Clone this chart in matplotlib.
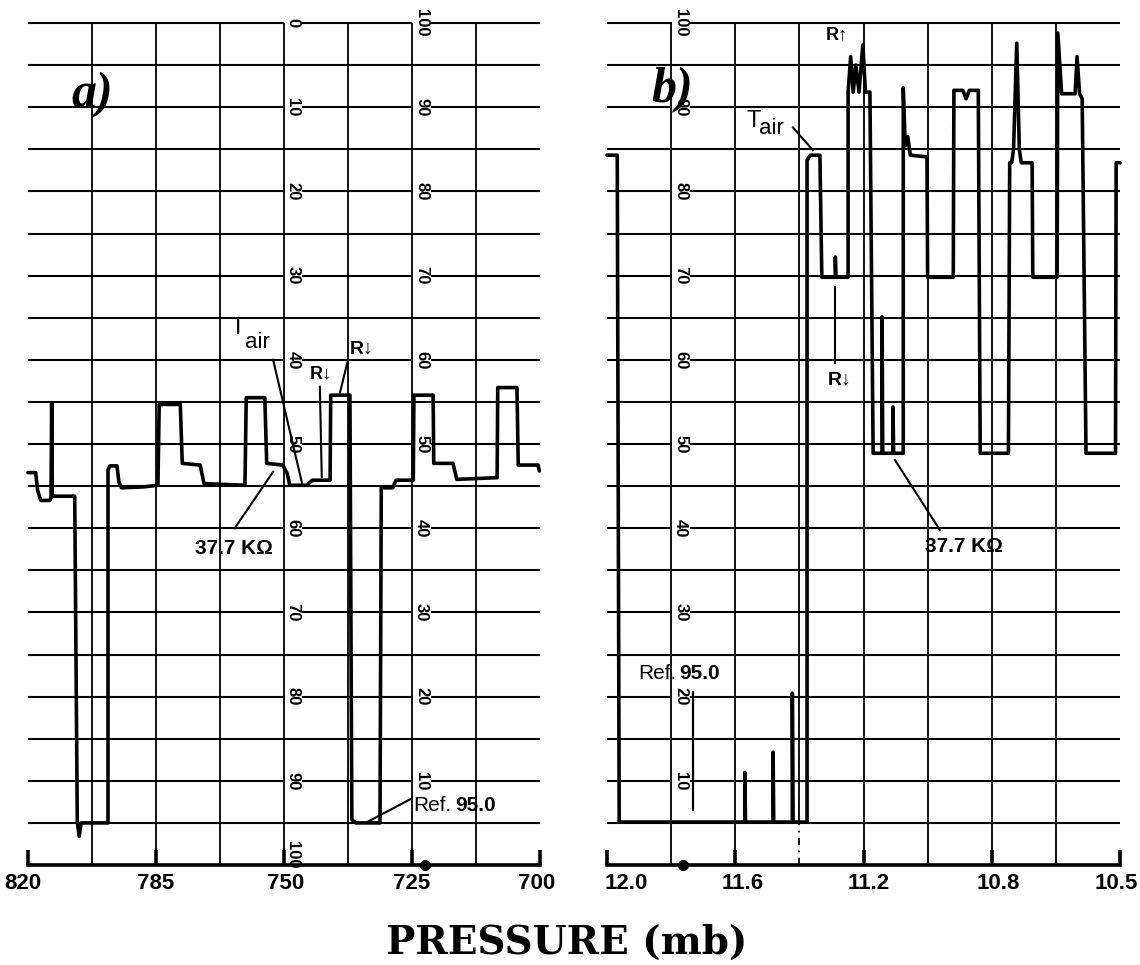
import matplotlib
matplotlib.use("Agg")
import matplotlib.pyplot as plt

plt.rcParams['font.family'] = ['Liberation Sans', 'DejaVu Sans']

# ---------------- data (x in chart divisions 0-8, y in chart units 0-100) -------------
div_ticks = [0, 2, 4, 6, 8]
a_pressure_labels = ['820', '785', '750', '725', '700']
b_pressure_labels = ['12.0', '11.6', '11.2', '10.8', '10.5']

grid_values = list(range(5, 101, 5))
grid_divs = [1, 2, 3, 4, 5, 6, 7]

scale_values = [100, 90, 80, 70, 60, 50, 40, 30, 20, 10]
a_left_scale = ['0', '10', '20', '30', '40', '50', '60', '70', '80', '90']
a_right_scale = ['100', '90', '80', '70', '60', '50', '40', '30', '20', '10']
b_scale = ['100', '90', '80', '70', '60', '50', '40', '30', '20', '10']

# panel a trace
a_x = [0.00, 0.12, 0.15, 0.20, 0.34, 0.36, 0.37, 0.38, 0.40, 0.73, 0.77, 0.80, 0.83,
       1.25, 1.25, 1.28, 1.39, 1.42, 1.46, 1.80, 2.03, 2.05, 2.38, 2.41, 2.69, 2.75,
       3.39, 3.41, 3.70, 3.73, 3.98, 4.05, 4.09, 4.36, 4.44, 4.72, 4.73, 5.03, 5.06,
       5.12, 5.50, 5.52, 5.70, 5.75, 6.02, 6.03, 6.33, 6.34, 6.64, 6.70, 7.33, 7.34,
       7.64, 7.66, 7.97, 7.99]
a_y = [46.6, 46.6, 44.5, 43.3, 43.3, 43.6, 54.9, 43.9, 43.8, 43.8, 5.2, 3.4, 5.0,
       5.0, 46.9, 47.4, 47.4, 45.5, 44.8, 44.9, 45.1, 54.7, 54.7, 47.7, 47.5, 45.3,
       45.1, 55.5, 55.5, 47.7, 47.5, 46.5, 45.1, 45.1, 45.7, 45.7, 55.8, 55.8, 5.4,
       5.0, 5.0, 44.8, 44.8, 45.7, 45.7, 55.8, 55.8, 47.7, 47.7, 45.8, 46.0, 56.7,
       56.7, 47.5, 47.5, 46.8]

# panel b trace
b_x = [0.00, 0.16, 0.19, 2.15, 2.15, 2.16, 2.59, 2.59, 2.60, 2.89, 2.89, 2.90, 3.12,
       3.12, 3.17, 3.32, 3.35, 3.56, 3.56, 3.57, 3.76, 3.76, 3.80, 3.84, 3.88, 3.93,
       3.99, 4.03, 4.10, 4.15, 4.29, 4.29, 4.30, 4.46, 4.46, 4.47, 4.62, 4.62, 4.65,
       4.69, 4.73, 4.99, 5.00, 5.40, 5.41, 5.55, 5.60, 5.65, 5.79, 5.82, 6.26, 6.28,
       6.31, 6.34, 6.39, 6.43, 6.46, 6.63, 6.64, 7.02, 7.03, 7.09, 7.30, 7.33, 7.37,
       7.41, 7.47, 7.93, 7.94, 8.00]
b_y = [84.3, 84.3, 5.1, 5.1, 11.0, 5.1, 5.1, 13.4, 5.1, 5.1, 20.4, 5.1, 5.1,
       83.7, 84.3, 84.3, 69.8, 69.8, 72.2, 69.8, 69.8, 91.8, 96.0, 91.8, 95.0, 91.8,
       97.4, 91.8, 91.8, 48.9, 48.9, 65.1, 48.9, 48.9, 54.4, 48.9, 48.9, 92.3, 85.4,
       86.5, 84.3, 84.1, 69.8, 69.8, 92.0, 92.0, 91.0, 92.0, 92.0, 48.9, 48.9, 83.4,
       83.4, 85.0, 97.6, 85.0, 83.4, 83.4, 69.8, 69.8, 98.8, 91.6, 91.6, 96.0, 91.6,
       91.0, 48.9, 48.9, 83.4, 83.4]

# annotation leader lines
a_tair_line = ([3.83, 4.28], [60.0, 45.4])
a_r1_line = ([5.00, 4.875], [60.0, 56.1])
a_r2_line = ([4.56, 4.59], [56.8, 46.1])
a_kohm_line = ([3.23, 3.83], [40.0, 46.7])
a_ref_line = ([5.97, 5.30], [7.8, 5.1])

b_tair_line = ([2.90, 3.21], [87.6, 84.9])
b_r_line = ([3.56, 3.56], [68.6, 59.6])
b_kohm_line = ([4.49, 5.19], [48.1, 39.8])
b_ref_bar = ([1.34, 1.34], [20.5, 6.5])

# ---------------- figure -------------------------------------------------------------
W, H = 1140, 965
fig = plt.figure(figsize=(W / 100, H / 100), dpi=100)
fig.patch.set_facecolor('white')

ax_a = fig.add_axes([28 / W, 100 / H, 512 / W, 842 / H])
ax_b = fig.add_axes([607 / W, 100 / H, 513 / W, 842 / H])

TRACE_LW = 2.6
THIN_LW = 1.5


def base_panel(ax, labels, label_shift, dashed_div=None):
    ax.set_xlim(0, 8)
    ax.set_ylim(0, 100)
    for s in ['top', 'left', 'right']:
        ax.spines[s].set_visible(False)
    ax.spines['bottom'].set_linewidth(2.6)
    ax.set_yticks([])
    ax.set_xticks(div_ticks)
    ax.set_xticklabels([])
    ax.tick_params(axis='x', direction='in', length=11, width=2.6)
    for d, t, sh in zip(div_ticks, labels, label_shift):
        ax.text(d + sh, -1.0, t, ha='center', va='top', fontsize=16,
                fontweight='bold', clip_on=False)
    ax.hlines(grid_values, 0, 8, colors='black', lw=1.5, zorder=1, clip_on=False)
    for d in grid_divs:
        if d == dashed_div:
            ax.vlines(d, 5, 100, colors='black', lw=1.3, zorder=3)
            ax.vlines(d, 0, 5, colors='black', lw=1.3, zorder=3,
                      linestyles=(0, (4, 3, 1, 3)))
        else:
            ax.vlines(d, 0, 100, colors='black', lw=1.3, zorder=3)


def scale(ax, xpos, labels):
    for v, t in zip(scale_values, labels):
        ax.text(xpos, v, t, rotation=270, ha='center', va='center', fontsize=12,
                fontweight='bold', zorder=2,
                bbox=dict(fc='white', ec='none', pad=1.2))


def tair(ax, tx, ty, ax_, ay_):
    ax.text(tx, ty, 'T', ha='center', va='center', fontsize=17, zorder=6)
    ax.text(ax_, ay_, 'air', ha='center', va='center', fontsize=16, zorder=6)


def ref_label(ax, xsplit, y):
    ax.text(xsplit, y, 'Ref.', ha='right', va='center', fontsize=15, zorder=6)
    ax.text(xsplit + 0.05, y, '95.0', ha='left', va='center', fontsize=15,
            fontweight='bold', zorder=6)


# ---------------- panel a -------------------------------------------------------------
base_panel(ax_a, a_pressure_labels, [-0.08, 0.0, 0.03, 0.0, -0.06])
scale(ax_a, 4.14, a_left_scale)
scale(ax_a, 6.15, a_right_scale)
ax_a.text(4.14, 1.2, '100', rotation=270, ha='center', va='center', fontsize=12,
          fontweight='bold', zorder=2)
ax_a.plot([6.2], [0], 'o', color='black', ms=7, clip_on=False, zorder=6)

ax_a.plot(a_x, a_y, color='black', lw=TRACE_LW, solid_joinstyle='round',
          solid_capstyle='round', zorder=4, clip_on=False)

for ln in [a_tair_line, a_r1_line, a_r2_line, a_kohm_line, a_ref_line]:
    ax_a.plot(ln[0], ln[1], color='black', lw=THIN_LW, zorder=5)

tair(ax_a, 3.28, 63.8, 3.58, 62.0)
ax_a.text(5.22, 61.3, 'R↓', ha='center', va='center', fontsize=14, fontweight='bold', zorder=6)
ax_a.text(4.58, 58.3, 'R↓', ha='center', va='center', fontsize=13, fontweight='bold', zorder=6)
ax_a.text(3.22, 37.6, '37.7 KΩ', ha='center', va='center', fontsize=15, fontweight='bold', zorder=6)
ref_label(ax_a, 6.62, 7.1)
ax_a.text(1.0, 91.4, 'a)', ha='center', va='center', fontsize=36, fontweight='bold',
          fontstyle='italic', family='Liberation Serif', zorder=6)

# ---------------- panel b -------------------------------------------------------------
base_panel(ax_b, b_pressure_labels, [0.3, 0.12, 0.08, 0.1, -0.05], dashed_div=3)
scale(ax_b, 1.15, b_scale)
ax_b.plot([1.19], [0], 'o', color='black', ms=7, clip_on=False, zorder=6)

ax_b.plot(b_x, b_y, color='black', lw=TRACE_LW, solid_joinstyle='round',
          solid_capstyle='round', zorder=4, clip_on=False)

for ln in [b_tair_line, b_r_line, b_kohm_line]:
    ax_b.plot(ln[0], ln[1], color='black', lw=THIN_LW, zorder=5)
ax_b.plot(b_ref_bar[0], b_ref_bar[1], color='black', lw=1.6, zorder=5)

tair(ax_b, 2.28, 88.4, 2.56, 87.5)
ax_b.text(3.63, 57.6, 'R↓', ha='center', va='center', fontsize=14, fontweight='bold', zorder=6)
ax_b.text(3.58, 98.6, 'R↑', ha='center', va='center', fontsize=13, fontweight='bold', zorder=6)
ax_b.text(5.57, 37.8, '37.7 KΩ', ha='center', va='center', fontsize=15, fontweight='bold', zorder=6)
ref_label(ax_b, 1.08, 22.8)
ax_b.text(1.01, 92.0, 'b)', ha='center', va='center', fontsize=36, fontweight='bold',
          fontstyle='italic', family='Liberation Serif', zorder=6)

fig.text(0.497, 0.023, 'PRESSURE (mb)', ha='center', va='center', fontsize=28,
         fontweight='bold', family='DejaVu Serif')

fig.savefig('out.png', dpi=100, facecolor='white')
